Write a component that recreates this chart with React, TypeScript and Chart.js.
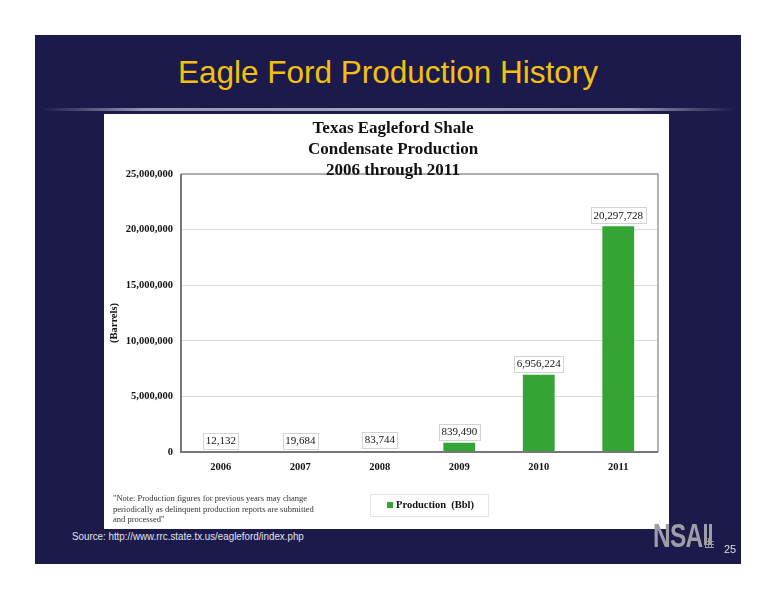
import { useEffect, useRef } from "react";
import { Chart, registerables } from "chart.js";

Chart.register(...registerables);

// ---------- data ----------
const years = ["2006", "2007", "2008", "2009", "2010", "2011"];
const production = [12132, 19684, 83744, 839490, 6956224, 20297728];
const yTicks = [0, 5000000, 10000000, 15000000, 20000000, 25000000];
const chartTitle = ["Texas Eagleford Shale", "Condensate Production", "2006 through 2011"];
const seriesLabel = "Production  (Bbl)";
const yAxisTitle = "(Barrels)";
const noteLines = [
  "\"Note: Production figures for previous years may change",
  "periodically as delinquent production reports are submitted",
  "and processed\"",
];
const slideTitle = "Eagle Ford Production History";
const sourceText = "Source: http://www.rrc.state.tx.us/eagleford/index.php";
const pageNumber = "25";

// ---------- styles ----------
const SERIF = '"Liberation Serif", "Times New Roman", serif';
const SANS = '"Liberation Sans", Arial, sans-serif';
const NAVY = "#1b1a4b";
const GREEN = "#34a534";

const fmt = (v: number) => v.toLocaleString("en-US");

const decorPlugin = {
  id: "decor",
  afterDatasetsDraw(chart: any) {
    const { ctx, chartArea: a } = chart;
    ctx.save();
    // frame top/right
    ctx.strokeStyle = "#9a9a9a";
    ctx.lineWidth = 1.5;
    ctx.beginPath();
    ctx.moveTo(a.left, a.top);
    ctx.lineTo(a.right, a.top);
    ctx.lineTo(a.right, a.bottom);
    ctx.stroke();
    // axis lines left/bottom
    ctx.strokeStyle = "#777777";
    ctx.lineWidth = 2;
    ctx.beginPath();
    ctx.moveTo(a.left, a.top);
    ctx.lineTo(a.left, a.bottom);
    ctx.lineTo(a.right, a.bottom);
    ctx.stroke();

    // data labels
    const meta = chart.getDatasetMeta(0);
    ctx.font = `11px ${SERIF}`;
    ctx.textAlign = "center";
    ctx.textBaseline = "middle";
    meta.data.forEach((bar: any, i: number) => {
      const text = fmt(production[i]);
      const w = ctx.measureText(text).width;
      const cx = bar.x;
      const cy = bar.y - 11;
      ctx.fillStyle = "#ffffff";
      ctx.fillRect(cx - w / 2 - 2.5, cy - 8, w + 5, 16);
      ctx.strokeStyle = "#d4d4d4";
      ctx.lineWidth = 1;
      ctx.strokeRect(Math.round(cx - w / 2 - 2.5) + 0.5, Math.round(cy - 8) + 0.5, Math.round(w + 5), 16);
      ctx.fillStyle = "#111";
      ctx.fillText(text, cx, cy + 0.5);
    });

    // chart title
    ctx.fillStyle = "#111";
    ctx.font = `bold 17px ${SERIF}`;
    chartTitle.forEach((t, i) => ctx.fillText(t, 289, 14.5 + i * 21));

    // y axis title
    ctx.save();
    ctx.translate(10, 209);
    ctx.rotate(-Math.PI / 2);
    ctx.font = `bold 10.5px ${SERIF}`;
    ctx.fillText(yAxisTitle, 0, 0);
    ctx.restore();

    // legend
    ctx.strokeStyle = "#e4e4e4";
    ctx.lineWidth = 1;
    ctx.strokeRect(266.5, 380.5, 118, 22);
    ctx.fillStyle = GREEN;
    ctx.fillRect(283, 388, 6, 6);
    ctx.fillStyle = "#111";
    ctx.textAlign = "left";
    ctx.font = `bold 10.5px ${SERIF}`;
    ctx.fillText(seriesLabel, 292, 391.5);

    // note
    ctx.fillStyle = "#333";
    ctx.font = `8.5px ${SERIF}`;
    noteLines.forEach((t, i) => ctx.fillText(t, 9, 385 + i * 10.5));
    ctx.restore();
  },
};

function ChartBox() {
  const ref = useRef<HTMLCanvasElement | null>(null);
  useEffect(() => {
    if (!ref.current) return;
    const chart = new Chart(ref.current, {
      type: "bar",
      data: {
        labels: years,
        datasets: [
          {
            label: seriesLabel,
            data: production,
            backgroundColor: GREEN,
            borderWidth: 0,
            categoryPercentage: 1,
            barPercentage: 0.4,
          },
        ],
      },
      options: {
        animation: false,
        responsive: true,
        maintainAspectRatio: false,
        layout: { padding: { top: 60, right: 11, bottom: 0, left: 0 } },
        plugins: {
          legend: { display: false },
          title: { display: false },
          tooltip: { enabled: false },
        },
        scales: {
          x: {
            grid: { display: false, drawTicks: false },
            border: { display: false },
            ticks: {
              color: "#111",
              font: { family: SERIF, size: 10.5, weight: "bold" },
              padding: 9,
            },
            afterFit: (s: any) => {
              s.height = 77;
            },
          },
          y: {
            min: yTicks[0],
            max: yTicks[yTicks.length - 1],
            ticks: {
              stepSize: yTicks[1] - yTicks[0],
              color: "#111",
              font: { family: SERIF, size: 10.5, weight: "bold" },
              padding: 8,
              callback: (v: any) => fmt(Number(v)),
            },
            grid: { color: "#dcdcdc", drawTicks: false, lineWidth: 1 },
            border: { display: false },
            afterFit: (s: any) => {
              s.width = 77;
            },
          },
        },
      },
      plugins: [decorPlugin],
    } as any);
    return () => chart.destroy();
  }, []);
  return (
    <div style={{ position: "absolute", left: 104, top: 114, width: 565, height: 415, background: "#fff" }}>
      <canvas ref={ref} />
    </div>
  );
}

export default function App() {
  return (
    <div
      style={{
        position: "absolute",
        left: 0,
        top: 0,
        width: 776,
        height: 600,
        background: "#ffffff",
        overflow: "hidden",
      }}
    >
      <div style={{ position: "absolute", left: 35, top: 35, width: 706, height: 529, background: NAVY }} />
      <div
        style={{
          position: "absolute",
          left: 35,
          top: 57,
          width: 706,
          textAlign: "center",
          fontFamily: SANS,
          fontSize: 31.5,
          lineHeight: "31.5px",
          color: "#f3c10c",
          whiteSpace: "nowrap",
        }}
      >
        {slideTitle}
      </div>
      <div
        style={{
          position: "absolute",
          left: 40,
          top: 108,
          width: 696,
          height: 3,
          background:
            "linear-gradient(to right, rgba(160,165,190,0) 0%, rgba(160,165,190,0.9) 15%, rgba(170,175,195,0.95) 50%, rgba(160,165,190,0.9) 85%, rgba(160,165,190,0) 100%)",
        }}
      />
      <ChartBox />
      <div
        style={{
          position: "absolute",
          left: 72,
          top: 530,
          fontFamily: SANS,
          fontSize: 11,
          lineHeight: "13px",
          color: "#e2e2e8",
          whiteSpace: "nowrap",
          transform: "scaleX(0.89)",
          transformOrigin: "left top",
        }}
      >
        {sourceText}
      </div>
      <div
        style={{
          position: "absolute",
          left: 653,
          top: 518,
          fontFamily: SANS,
          fontWeight: "bold",
          fontSize: 34,
          lineHeight: "34px",
          color: "#9d9da6",
          letterSpacing: -1,
          transform: "scaleX(0.72)",
          transformOrigin: "left top",
          whiteSpace: "nowrap",
        }}
      >
        NSA
      </div>
      <div style={{ position: "absolute", left: 704, top: 524, width: 3, height: 21, background: "#9d9da6" }} />
      <div style={{ position: "absolute", left: 709, top: 524, width: 3, height: 21, background: "#9d9da6" }} />
      <div
        style={{
          position: "absolute",
          left: 705,
          top: 538,
          width: 9,
          height: 10,
          borderRadius: "50% 50% 0 0",
          background:
            "repeating-linear-gradient(to right, #9d9da6 0 1px, transparent 1px 3px), repeating-linear-gradient(to bottom, #9d9da6 0 1px, transparent 1px 3px)",
        }}
      />
      <div
        style={{
          position: "absolute",
          left: 724,
          top: 543,
          fontFamily: SANS,
          fontSize: 11,
          lineHeight: "12px",
          color: "#dddddd",
        }}
      >
        {pageNumber}
      </div>
    </div>
  );
}
